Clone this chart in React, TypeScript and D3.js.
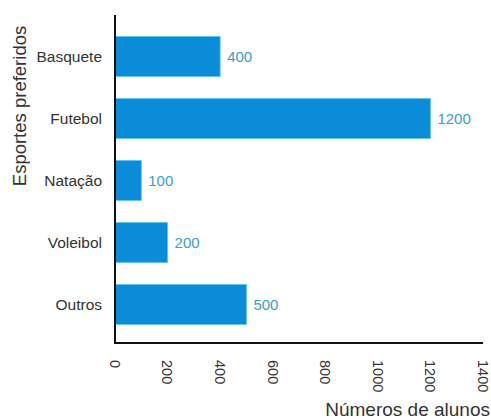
import React from "react";
import * as d3 from "d3";

const categories = ["Basquete", "Futebol", "Natação", "Voleibol", "Outros"];
const values = [400, 1200, 100, 200, 500];
const xTicks = [0, 200, 400, 600, 800, 1000, 1200, 1400];
const xTitle = "Números de alunos";
const yTitle = "Esportes preferidos";

const W = 491;
const H = 419;
const FONT = "'Liberation Sans', Arial, sans-serif";

export default function App() {
  const x = d3.scaleLinear().domain([0, 1400]).range([115, 483]);
  const y = d3
    .scaleBand<string>()
    .domain(categories)
    .range([25.5, 335.5])
    .paddingInner(0.355)
    .paddingOuter(0.1775);

  const axisX0 = x(0);
  const axisBottom = 343;
  const axisTop = 15;

  return (
    <svg
      width={W}
      height={H}
      style={{ position: "absolute", left: 0, top: 0, display: "block", background: "#fff" }}
      fontFamily={FONT}
    >
      {categories.map((c, i) => {
        const yy = y(c)!;
        const bw = y.bandwidth();
        return (
          <g key={c}>
            <rect
              x={axisX0}
              y={yy}
              width={x(values[i]) - axisX0}
              height={bw}
              fill="#0a8cd8"
              stroke="#5cc4ee"
              strokeWidth={0.8}
            />
            <text
              x={x(values[i]) + 7}
              y={yy + bw / 2}
              dy="0.35em"
              fontSize={15}
              fill="#3a9fc9"
            >
              {values[i]}
            </text>
            <text
              x={102}
              y={yy + bw / 2}
              dy="0.35em"
              textAnchor="end"
              fontSize={15.5}
              fill="#333"
            >
              {c}
            </text>
          </g>
        );
      })}
      <line x1={axisX0} x2={axisX0} y1={axisTop} y2={axisBottom} stroke="#111" strokeWidth={2} />
      <line x1={axisX0 - 1} x2={483} y1={axisBottom} y2={axisBottom} stroke="#111" strokeWidth={2} />
      {xTicks.map((t) => (
        <text
          key={t}
          transform={`translate(${x(t)},${360}) rotate(90)`}
          dy="0.35em"
          fontSize={14.5}
          fill="#333"
        >
          {t}
        </text>
      ))}
      <text x={490} y={416} textAnchor="end" fontSize={19} fill="#333">
        {xTitle}
      </text>
      <text
        transform={`translate(${20},${106}) rotate(-90)`}
        dy="0.35em"
        textAnchor="middle"
        fontSize={18.5}
        fill="#333"
      >
        {yTitle}
      </text>
    </svg>
  );
}
